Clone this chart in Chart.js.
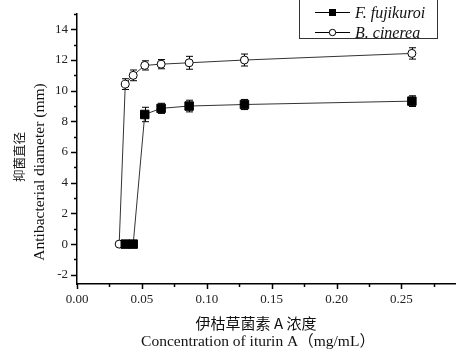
<!DOCTYPE html>
<html>
<head>
<meta charset="utf-8">
<script src="https://cdn.jsdelivr.net/npm/chart.js@4.4.1/dist/chart.umd.min.js"></script>
<style>
  html, body { margin: 0; padding: 0; background: #fff; }
  #wrap { width: 456px; height: 354px; position: relative; }
</style>
</head>
<body>
<div id="wrap"><canvas id="c" width="456" height="354"></canvas></div>
<script>
// ---- data ----
const seriesNames = ['F. fujikuroi', 'B. cinerea'];
const fujiX   = [0.0372, 0.0433, 0.0522, 0.0648, 0.0864, 0.129, 0.258];
const fujiY   = [0, 0, 8.45, 8.85, 9.0, 9.1, 9.32];
const fujiErr = [0, 0, 0.47, 0.33, 0.38, 0.33, 0.35];
const cineX   = [0.0325, 0.0372, 0.0433, 0.0522, 0.0648, 0.0864, 0.129, 0.258];
const cineY   = [0, 10.43, 11.0, 11.65, 11.73, 11.82, 12.0, 12.43];
const cineErr = [0, 0.35, 0.35, 0.3, 0.3, 0.42, 0.39, 0.37];
const xTitleCN = '伊枯草菌素 A 浓度';
const xTitleEN = 'Concentration of iturin A（mg/mL）';
const yTitleCN = '抑菌直径';
const yTitleEN = 'Antibacterial diameter (mm)';

const SERIF = '"Liberation Serif", "Times New Roman", "Noto Sans CJK SC", serif';
const CJK = '"Noto Sans CJK SC", "Liberation Serif", sans-serif';

function pts(xs, ys) { return xs.map((x, i) => ({ x: x, y: ys[i] })); }

const errData = [fujiErr, cineErr];

const axisPlugin = {
  id: 'axisDeco',
  beforeDatasetsDraw(chart) {
    const ctx = chart.ctx;
    const xs = chart.scales.x, ys = chart.scales.y;
    ctx.save();
    ctx.strokeStyle = '#000';
    ctx.lineWidth = 1;
    chart.data.datasets.forEach((ds, di) => {
      const errs = errData[di];
      ds.data.forEach((p, i) => {
        const e = errs[i];
        if (!e) return;
        const px = Math.round(xs.getPixelForValue(p.x)) + 0.5;
        const top = ys.getPixelForValue(p.y + e);
        const bot = ys.getPixelForValue(p.y - e);
        ctx.beginPath();
        ctx.moveTo(px, top); ctx.lineTo(px, bot);
        ctx.moveTo(px - 3.5, top); ctx.lineTo(px + 3.5, top);
        ctx.moveTo(px - 3.5, bot); ctx.lineTo(px + 3.5, bot);
        ctx.stroke();
      });
    });
    ctx.restore();
  },
  afterDraw(chart) {
    const ctx = chart.ctx;
    const xs = chart.scales.x, ys = chart.scales.y;
    const area = chart.chartArea;
    ctx.save();
    ctx.strokeStyle = '#000';
    ctx.lineWidth = 1.5;
    // y ticks
    for (let v = -2; v <= 15; v++) {
      const py = Math.round(ys.getPixelForValue(v)) + 0.5;
      const len = (v % 2 === 0) ? 6 : 3;
      ctx.beginPath();
      ctx.moveTo(area.left, py); ctx.lineTo(area.left - len, py);
      ctx.stroke();
    }
    // x ticks
    for (let i = 0; i <= 11; i++) {
      const v = i * 0.025;
      const px = Math.round(xs.getPixelForValue(v)) + 0.5;
      const len = (i % 2 === 0) ? 5 : 3;
      ctx.beginPath();
      ctx.moveTo(px, area.bottom); ctx.lineTo(px, area.bottom + len);
      ctx.stroke();
    }
    // axis titles
    ctx.fillStyle = '#111';
    ctx.textAlign = 'center';
    ctx.textBaseline = 'middle';
    ctx.font = '15px ' + CJK;
    ctx.fillText(xTitleCN, 256, 323);
    ctx.font = '15.5px ' + SERIF;
    ctx.fillText(xTitleEN, 258, 342);
    ctx.save();
    ctx.translate(19, 157);
    ctx.rotate(-Math.PI / 2);
    ctx.font = '12.5px ' + CJK;
    ctx.fillText(yTitleCN, 0, 0);
    ctx.restore();
    ctx.save();
    ctx.translate(40, 172);
    ctx.rotate(-Math.PI / 2);
    ctx.font = '15.5px ' + SERIF;
    ctx.fillText(yTitleEN, 0, 0);
    ctx.restore();
    // legend box
    ctx.lineWidth = 1;
    ctx.strokeStyle = '#333';
    ctx.strokeRect(299.5, -1.5, 138, 40);
    const rows = [12.5, 32.5];
    rows.forEach((ry, i) => {
      ctx.strokeStyle = '#000';
      ctx.lineWidth = 1;
      ctx.beginPath();
      ctx.moveTo(315, ry); ctx.lineTo(350, ry);
      ctx.stroke();
      if (i === 0) {
        ctx.fillStyle = '#000';
        ctx.fillRect(329, ry - 3.5, 7, 7);
      } else {
        ctx.fillStyle = '#fff';
        ctx.beginPath();
        ctx.arc(332.5, ry, 3.2, 0, Math.PI * 2);
        ctx.fill();
        ctx.stroke();
      }
      ctx.fillStyle = '#111';
      ctx.textAlign = 'left';
      ctx.font = 'italic 16px ' + SERIF;
      ctx.fillText(seriesNames[i], 355, ry + 1);
    });
    ctx.restore();
  }
};

new Chart(document.getElementById('c'), {
  type: 'scatter',
  data: {
    datasets: [
      {
        label: seriesNames[0],
        data: pts(fujiX, fujiY),
        showLine: true,
        borderColor: '#333',
        borderWidth: 1,
        pointStyle: 'rect',
        pointRadius: 6,
        pointBackgroundColor: '#000',
        pointBorderColor: '#000',
        pointBorderWidth: 1,
        tension: 0
      },
      {
        label: seriesNames[1],
        data: pts(cineX, cineY),
        showLine: true,
        borderColor: '#333',
        borderWidth: 1,
        pointStyle: 'circle',
        pointRadius: 4,
        pointBackgroundColor: '#fff',
        pointBorderColor: '#000',
        pointBorderWidth: 1,
        tension: 0
      }
    ]
  },
  options: {
    responsive: false,
    animation: false,
    events: [],
    layout: { autoPadding: false, padding: { top: 14, right: 0, left: 0, bottom: 0 } },
    plugins: {
      legend: { display: false },
      tooltip: { enabled: false },
      title: { display: false }
    },
    scales: {
      x: {
        type: 'linear',
        min: 0,
        max: 0.292,
        grid: { display: false, drawTicks: false, tickLength: 0 },
        border: { display: true, color: '#000', width: 1.5 },
        ticks: {
          stepSize: 0.05,
          includeBounds: false,
          padding: 8,
          color: '#222',
          font: { family: SERIF, size: 13 },
          maxRotation: 0,
          autoSkip: false,
          callback: (v) => Number(v).toFixed(2)
        },
        afterFit: (s) => { s.height = 70; s.paddingRight = 0; s.paddingLeft = 0; }
      },
      y: {
        type: 'linear',
        min: -2.6,
        max: 15,
        grid: { display: false, drawTicks: false, tickLength: 0 },
        border: { display: true, color: '#000', width: 1.5 },
        ticks: {
          stepSize: 2,
          includeBounds: false,
          padding: 9,
          color: '#222',
          font: { family: SERIF, size: 13 },
          autoSkip: false,
          callback: (v) => String(Math.round(v))
        },
        afterFit: (s) => { s.width = 77; s.paddingTop = 0; s.paddingBottom = 0; }
      }
    }
  },
  plugins: [axisPlugin]
});
</script>
</body>
</html>
